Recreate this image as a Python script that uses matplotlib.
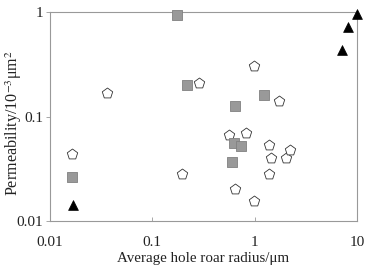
import matplotlib
matplotlib.use('Agg')
import matplotlib.pyplot as plt
from matplotlib.ticker import FixedLocator, NullLocator

# Данные
pent_x = [0.0164, 0.0358, 0.195, 0.284, 0.99, 1.74, 0.558, 0.824, 1.37, 1.43, 2.03, 2.22, 1.39, 0.643, 0.99]
pent_y = [0.0442, 0.169, 0.028, 0.212, 0.308, 0.141, 0.0668, 0.0693, 0.054, 0.0402, 0.0402, 0.0483, 0.028, 0.0202, 0.0156]

sq_x = [0.174, 0.0164, 0.217, 0.643, 1.245, 0.634, 0.741, 0.605]
sq_y = [0.94, 0.0264, 0.2, 0.126, 0.162, 0.0564, 0.052, 0.0368]

tri_x = [0.0167, 7.1, 8.2, 10.0]
tri_y = [0.0143, 0.44, 0.73, 0.97]

x_ticks = [0.01, 0.1, 1, 10]
x_labels = ['0.01', '0.1', '1', '10']
y_ticks = [0.01, 0.1, 1]
y_labels = ['0.01', '0.1', '1']

plt.rcParams['font.family'] = ['Liberation Serif', 'DejaVu Serif']
plt.rcParams['mathtext.fontset'] = 'stix'

fig = plt.figure(figsize=(3.72, 2.76), dpi=100)
ax = fig.add_axes([0.1344, 0.1993, 0.8253, 0.7561])

ax.scatter(pent_x, pent_y, marker='p', s=62, facecolor='white', edgecolor='#333333',
           linewidth=0.6, clip_on=False, zorder=3)
ax.scatter(sq_x, sq_y, marker='s', s=42, facecolor='#999999', edgecolor='#808080',
           linewidth=0.6, clip_on=False, zorder=3)
ax.scatter(tri_x, tri_y, marker='^', s=50, facecolor='black', edgecolor='black',
           linewidth=0.5, clip_on=False, zorder=4)

ax.set_xscale('log')
ax.set_yscale('log')
ax.set_xlim(0.01, 10)
ax.set_ylim(0.01, 1)

ax.xaxis.set_major_locator(FixedLocator(x_ticks))
ax.yaxis.set_major_locator(FixedLocator(y_ticks))
ax.xaxis.set_minor_locator(NullLocator())
ax.yaxis.set_minor_locator(NullLocator())
ax.set_xticklabels(x_labels)
ax.set_yticklabels(y_labels)

ax.tick_params(axis='x', direction='in', length=3, width=0.6, color='#999999',
               labelsize=11, pad=11, labelcolor='#222222')
ax.tick_params(axis='y', direction='out', length=3, width=0.6, color='#999999',
               labelsize=11, pad=2, labelcolor='#222222')

for s in ax.spines.values():
    s.set_color('#999999')
    s.set_linewidth(0.8)

ax.set_xlabel('Average hole roar radius/μm', fontsize=10.8, labelpad=2, color='#222222')
# подпись оси Y ставим вручную, чтобы не обрезалась
fig.text(14 / 372, 1 - 123 / 276, r'Permeability/10$^{-3}$μm$^{2}$', rotation=90,
         fontsize=11.6, ha='center', va='center', color='#222222')

plt.savefig('out.png', dpi=100)
